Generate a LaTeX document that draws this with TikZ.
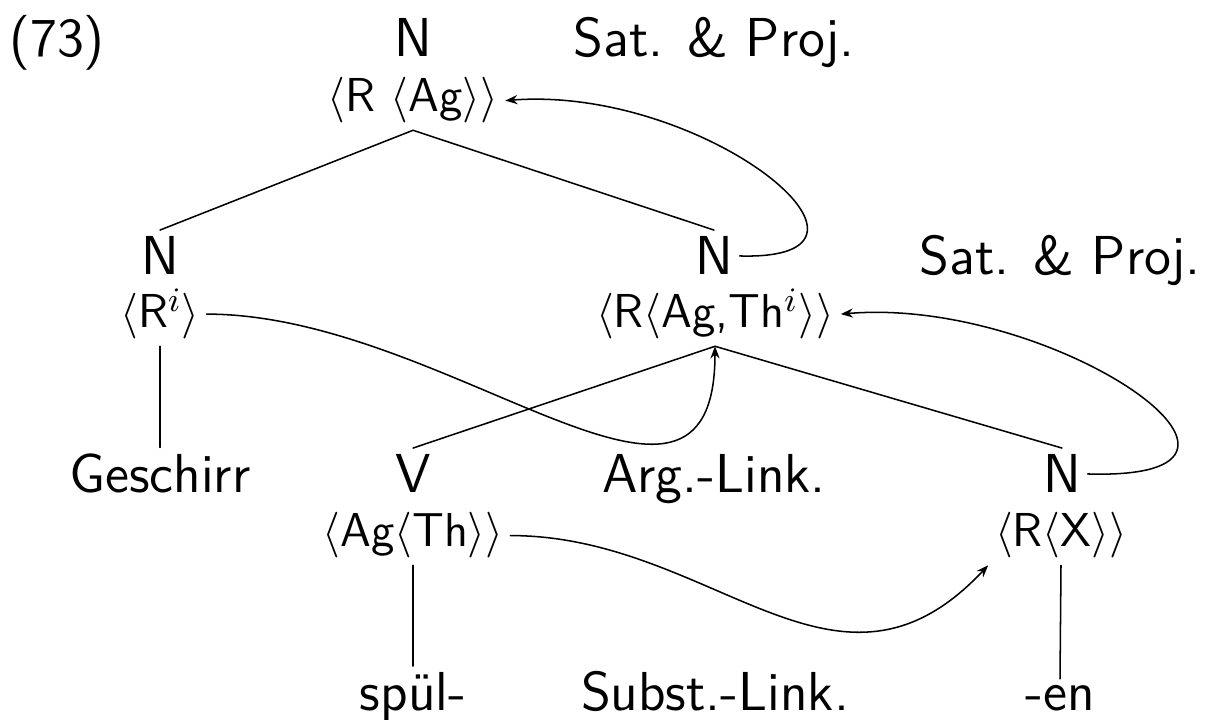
\documentclass[tikz,border=0pt]{standalone}
\usepackage{amsmath}
\usetikzlibrary{arrows.meta}

\begin{document}
\begin{tikzpicture}[
  x=0.2625pt,y=-0.2625pt,
  font=\sffamily\fontsize{14.4}{17}\selectfont,
  line cap=round,line join=round,
  cat/.style={inner sep=1.6pt,anchor=base},
  feat/.style={inner sep=1.6pt,anchor=base,font=\sffamily\fontsize{12.5}{15}\selectfont},
  word/.style={inner sep=1.6pt,anchor=base},
  branch/.style={draw=black,line width=0.4pt},
  link/.style={draw=black,line width=0.4pt,-{Stealth[length=3.2pt,width=2.4pt]}}
]
\useasboundingbox (0,0) rectangle (1213,720);

% Example number and the mother node.
\node[word] (exnum) at (57,57) {(73)};
\node[cat] (nA) at (413,57) {N};
\node[feat] (fA) at (413,112) {$\langle$R $\langle$Ag$\rangle\rangle$};
\node[word] (satA) at (714,57) {Sat. \& Proj.};

% Second level.
\node[cat] (nB) at (160,275) {N};
\node[feat] (fB) at (160,328) {$\langle$R$^{i}\rangle$};
\node[cat] (nC) at (714,275) {N};
\node[feat] (fC) at (715,328) {$\langle$R$\langle$Ag,Th$^{i}\rangle\rangle$};
\node[word] (satB) at (1060,275) {Sat. \& Proj.};

% Third level.
\node[word] (geschirr) at (160,493) {Geschirr};
\node[cat] (nV) at (413,493) {V};
\node[feat] (fV) at (413,547) {$\langle$Ag$\langle$Th$\rangle\rangle$};
\node[word] (arglink) at (714,493) {Arg.-Link.};
\node[cat] (nD) at (1062,493) {N};
\node[feat] (fD) at (1061,547) {$\langle$R$\langle$X$\rangle\rangle$};

% Leaves.
\node[word] (spuel) at (413,711) {spül-};
\node[word] (subst) at (715,711) {Subst.-Link.};
\node[word] (en) at (1060,711) {-en};

% Tree branches.
\draw[branch] (fA.south) -- (nB.north);
\draw[branch] (fA.south) -- (nC.north);
\draw[branch] (fB.south) -- (geschirr.north);
\draw[branch] (fC.south) -- (nV.north);
\draw[branch] (fC.south) -- (nD.north);
\draw[branch] (fV.south) -- (spuel.north);
\draw[branch] (fD.south) -- (en.north);

% Linking arrows.
\draw[link] (nC.east) .. controls +(180,5) and +(200,-15) .. (fA.east);
\draw[link] (fB.east) .. controls +(242,0) and +(0,232) .. (fC.south);
\draw[link] (nD.east) .. controls +(233,7) and +(212,-18) .. (fC.east);
\draw[link] (fV.east) .. controls +(204,0) and +(-152,162) .. (fD.south west);

\end{tikzpicture}
\end{document}
